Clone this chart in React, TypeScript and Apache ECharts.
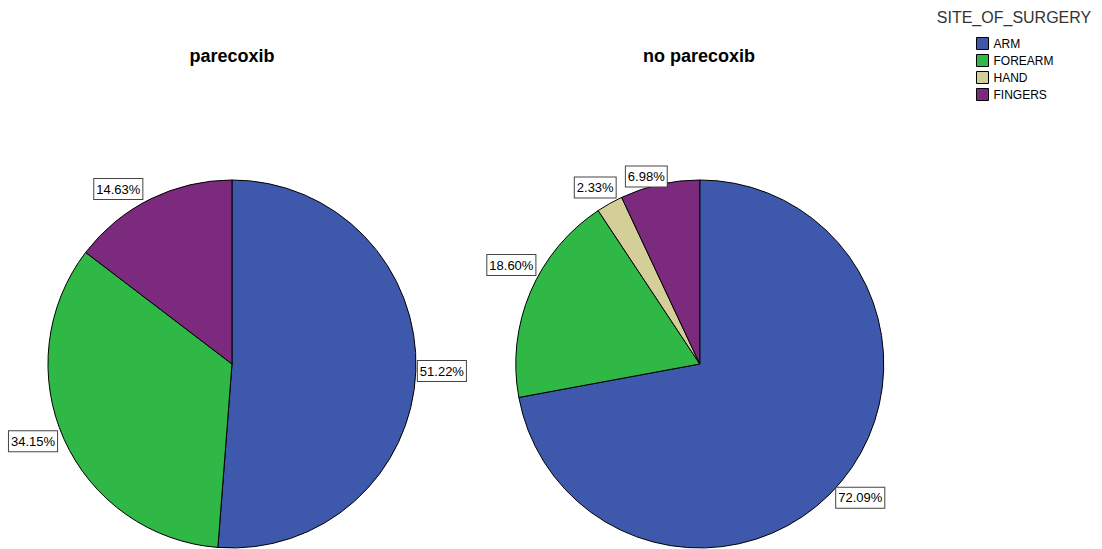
import React, { useEffect, useRef } from "react";
import * as echarts from "echarts";

const categories = ["ARM", "FOREARM", "HAND", "FINGERS"];
const colors = ["#3e58ac", "#2fb845", "#d4cf98", "#7b2a7e"];
const pieTitles = ["parecoxib", "no parecoxib"];
const parecoxibValues = [51.22, 34.15, 0, 14.63];
const noParecoxibValues = [72.09, 18.6, 2.33, 6.98];
const legendTitle = "SITE_OF_SURGERY";

// small label nudges (dx, dy) per category, per pie, to mimic the reference's label placement
const labelNudges = [
  [[-3, 0], [-2, 2], [0, 0], [-3, -10]],
  [[-10, 16], [10, -27], [11, -16], [12, -8]],
];

const FONT = "'Liberation Sans', Arial, sans-serif";

function buildData(values: number[]) {
  return values
    .map((v, i) => ({ name: categories[i], value: v, catIndex: i, itemStyle: { color: colors[i] } }))
    .filter((d) => d.value > 0);
}

export default function App() {
  const ref = useRef<HTMLDivElement>(null);
  useEffect(() => {
    document.body.style.margin = "0";
    const chart = echarts.init(ref.current!, null, { renderer: "svg" });
    const centers = [["21.05%", "66.3%"], ["63.5%", "66.3%"]];
    const datas = [buildData(parecoxibValues), buildData(noParecoxibValues)];
    const makeSeries = (idx: number) => ({
      type: "pie",
      name: pieTitles[idx],
      center: centers[idx],
      radius: 184,
      startAngle: 90,
      clockwise: true,
      avoidLabelOverlap: false,
      percentPrecision: 2,
      emphasis: { disabled: true },
      itemStyle: { borderColor: "#000", borderWidth: 1 },
      label: {
        show: true,
        position: "outside",
        formatter: (p: any) => p.value.toFixed(2) + "%",
        fontFamily: FONT,
        fontSize: 13,
        color: "#000",
        backgroundColor: "#fff",
        borderColor: "#444",
        borderWidth: 1,
        padding: [4, 2, 3, 2],
        overflow: "none",
        edgeDistance: 0,
      },
      labelLine: { show: false, length: 0, length2: 0 },
      labelLayout: (p: any) => {
        const d = datas[idx][p.dataIndex];
        const n = labelNudges[idx][d.catIndex];
        return { dx: n[0], dy: n[1] };
      },
      data: datas[idx],
    });
    chart.setOption({
      animation: false,
      backgroundColor: "#fff",
      title: [
        {
          text: pieTitles[0],
          left: 232,
          top: 47,
          padding: 0,
          textAlign: "center",
          textStyle: { fontFamily: FONT, fontSize: 18, fontWeight: "bold", color: "#000" },
        },
        {
          text: pieTitles[1],
          left: 699,
          top: 47,
          padding: 0,
          textAlign: "center",
          textStyle: { fontFamily: FONT, fontSize: 18, fontWeight: "bold", color: "#000" },
        },
        {
          text: legendTitle,
          left: 1014,
          top: 9,
          padding: 0,
          textAlign: "center",
          textStyle: { fontFamily: FONT, fontSize: 16, fontWeight: "normal", color: "#333" },
        },
      ],
      legend: {
        orient: "vertical",
        left: 976,
        top: 37,
        itemGap: 4,
        itemWidth: 12,
        itemHeight: 12,
        icon: "rect",
        data: categories,
        selectedMode: false,
        itemStyle: { borderColor: "#000", borderWidth: 1 },
        textStyle: { fontFamily: FONT, fontSize: 12, color: "#000", lineHeight: 12, padding: [0, 0, 0, 0] },
        padding: 0,
      },
      series: [makeSeries(0), makeSeries(1)],
    });
    return () => chart.dispose();
  }, []);
  return <div ref={ref} style={{ width: 1102, height: 549 }} />;
}
